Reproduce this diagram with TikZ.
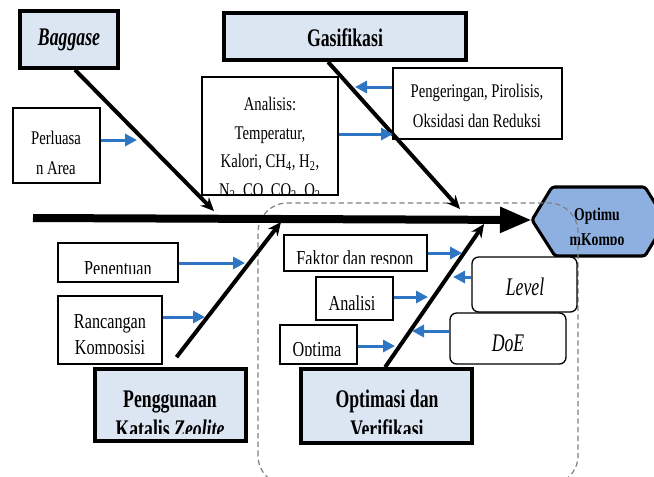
\documentclass[tikz,border=0pt]{standalone}
\usepackage{fontspec}
\setmainfont{Liberation Serif}[FakeStretch=0.76]
\newfontfamily\titlefont{Liberation Serif}[FakeStretch=0.70]
\usetikzlibrary{arrows.meta,fit}
\definecolor{boxblue}{HTML}{DCE6F2}
\definecolor{hexblue}{HTML}{8DB0E0}
\definecolor{arrowblue}{HTML}{2E75C4}
\definecolor{zonegray}{HTML}{808080}
\tikzset{
  thinbox/.style={draw=black, line width=1pt, fill=white, inner sep=0pt},
  thickbox/.style={draw=black, line width=2.8pt, fill=boxblue, inner sep=0pt},
  roundbox/.style={thinbox, rounded corners=5pt},
  txt/.style={font=\fontsize{14.5}{21.4}\selectfont, align=center, inner sep=0pt},
  txtb/.style={font=\fontsize{16}{19.5}\selectfont, align=center, inner sep=0pt},
  ttl/.style={font=\titlefont\bfseries\fontsize{19}{22.5}\selectfont, align=center, inner sep=0pt},
  itl/.style={font=\titlefont\itshape\fontsize{19}{22}\selectfont, inner sep=0pt},
  barrow/.style={draw=arrowblue, line width=2.25pt, -{Triangle[length=9pt,width=9pt]}},
  branch/.style={draw=black, line width=3pt, -{Stealth[length=10pt,width=9pt]}},
  spine/.style={draw=black, line width=6pt, -{Triangle[length=24pt,width=18pt]}},
  zone/.style={draw=zonegray, dash pattern=on 4pt off 2.5pt, line width=0.9pt, rounded corners=22pt},
  hexshape/.style={draw=black, line width=2.3pt, fill=hexblue, rounded corners=2pt},
}
\begin{document}
\begin{tikzpicture}[x=0.75pt,y=-0.75pt]
\useasboundingbox (0,0) rectangle (654,476);
\clip (0,0) rectangle (654,476);

% hexagon (effect)
\coordinate (hexw) at (532,220);
\draw[hexshape] (hexw) -- (552,187) -- (645,187) -- (666,221) -- (645,256) -- (555,256) -- cycle;
\begin{scope}
  \clip (532,187) rectangle (654,244);
  \node[font=\bfseries\fontsize{13.5}{18.75}\selectfont, align=center, inner sep=0pt] (hexT) at (597,228.5) {Optimu\\mKompo};
\end{scope}

% dashed zone
\draw[zone] (258,485) -- (258,203) -- (578,203) -- (578,485) -- cycle;

% boxes
\node[thickbox, fit={(20,11) (118,68)}] (bag) {};
\node[ttl, font=\titlefont\bfseries\itshape\fontsize{19}{22}\selectfont] (bagT) at (69,40) {Baggase};
\node[thickbox, fit={(224,13) (466,60)}] (gas) {};
\node[ttl] (gasT) at (345,38) {Gasifikasi};

\node[thinbox, fit={(13,108) (100,183)}] (perl) {};
\node[txt, font=\fontsize{14.5}{22.5}\selectfont] (perlT) at (56,153) {Perluasa\\n Area};

\node[thinbox, fit={(202,77) (338,195)}] (ana) {};
\begin{scope}
  \clip (ana.north west) rectangle (ana.south east);
  \node[txt, font=\fontsize{14.5}{21.4}\selectfont] (anaT) at (270,148.5) {Analisis:\\Temperatur,\\Kalori, CH\textsubscript{4}, H\textsubscript{2},\\N\textsubscript{2}, CO, CO\textsubscript{2}, O\textsubscript{2}};
\end{scope}

\node[thinbox, fit={(393,68) (562,139)}] (peng) {};
\node[txt, font=\fontsize{14.5}{23}\selectfont] (pengT) at (477,106) {Pengeringan, Pirolisis,\\Oksidasi dan Reduksi};

\node[thinbox, fit={(58,243) (178,282)}] (pent) {};
\begin{scope}
  \clip (pent.north west) rectangle (pent.east |- 0,273);
  \node[txtb] (pentT) at (118,268.5) {Penentuan};
\end{scope}

\node[thinbox, fit={(58,296) (162,364)}] (ran) {};
\begin{scope}
  \clip (ran.north west) rectangle (ran.east |- 0,353);
  \node[txtb, font=\fontsize{16}{19.5}\selectfont] (ranT) at (110,337) {Rancangan\\Komposisi};
\end{scope}

\node[thickbox, fit={(95,369) (246,441)}] (pgn) {};
\begin{scope}
  \clip (pgn.north west) rectangle (pgn.east |- 0,433);
  \node[ttl] (pgnT) at (170,414) {Penggunaan\\Katalis \textit{Zeolite}};
\end{scope}

\node[thinbox, fit={(284,235) (427,271)}] (fak) {};
\begin{scope}
  \clip (fak.north west) rectangle (fak.east |- 0,263);
  \node[txtb] (fakT) at (355,260) {Faktor dan respon};
\end{scope}

\node[thinbox, fit={(316,277) (393,320)}] (anl) {};
\node[txtb] (anlT) at (352,303) {Analisi};

\node[thinbox, fit={(280,325) (357,364)}] (opm) {};
\begin{scope}
  \clip (opm.north west) rectangle (opm.east |- 0,355);
  \node[txtb] (opmT) at (317,352) {Optima};
\end{scope}

\node[thickbox, fit={(301,369) (472,443)}] (opt) {};
\begin{scope}
  \clip (opt.north west) rectangle (opt.east |- 0,433);
  \node[ttl] (optT) at (387,414) {Optimasi dan\\Verifikasi};
\end{scope}

\node[roundbox, fit={(472,257) (577,312)}] (lev) {};
\node[itl] (levT) at (525,287) {Level};
\node[roundbox, fit={(450,313) (566,364)}] (doe) {};
\node[itl] (doeT) at (508,343) {DoE};

% spine
\coordinate (spL) at (33,218);
\draw[spine] (spL) -- (hexw);

% branch tips
\coordinate (tBag) at (214,211);
\coordinate (tGas) at (460,209);
\coordinate (tPgn) at (281,222);
\coordinate (tOpt) at (484,224);
\draw[branch] ([xshift=4.5pt]bag.south) -- (tBag);
\draw[branch] ([xshift=-12.75pt]gas.south) -- (tGas);
\draw[branch] ([xshift=4.5pt,yshift=7.5pt]pgn.north) -- (tPgn);
\draw[branch] ([xshift=-1pt]opt.north) -- (tOpt);

% blue arrows
\coordinate (aPerl) at (137,140);
\coordinate (aPeng) at (355,87);
\coordinate (aAna) at (393,134);
\coordinate (aPent) at (245,263);
\coordinate (aRan) at (205,317);
\coordinate (aFak) at (462,253);
\coordinate (aAnl) at (428,297);
\coordinate (aOpm) at (395,346);
\coordinate (aLev) at (453,277);
\coordinate (aDoe) at (412,331);
\draw[barrow] (perl.east |- aPerl) -- (aPerl);
\draw[barrow] (peng.west |- aPeng) -- (aPeng);
\draw[barrow] (ana.east |- aAna) -- (aAna);
\draw[barrow] (pent.east |- aPent) -- (aPent);
\draw[barrow] (ran.east |- aRan) -- (aRan);
\draw[barrow] (fak.east |- aFak) -- (aFak);
\draw[barrow] (anl.east |- aAnl) -- (aAnl);
\draw[barrow] (opm.east |- aOpm) -- (aOpm);
\draw[barrow] (lev.west |- aLev) -- (aLev);
\draw[barrow] (doe.west |- aDoe) -- (aDoe);
\end{tikzpicture}
\end{document}
